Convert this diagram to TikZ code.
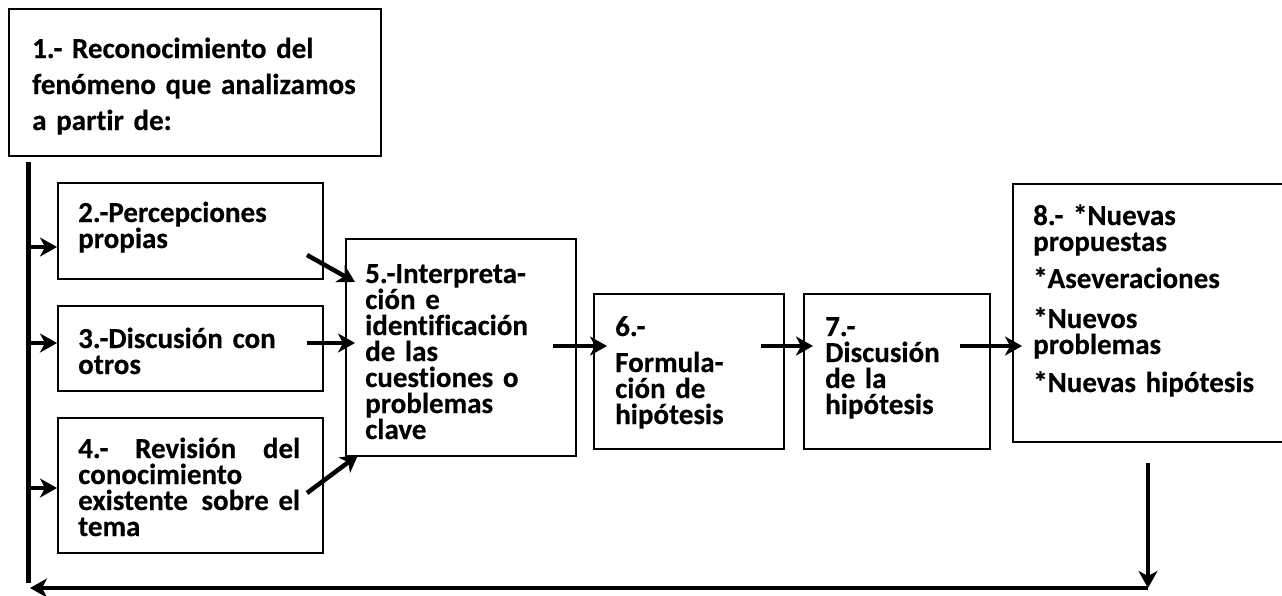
\documentclass[tikz,border=0pt]{standalone}
\usepackage{fontspec}
\setmainfont{Carlito}[Ligatures=NoCommon,BoldFeatures={FakeBold=0.4}]
\usetikzlibrary{arrows.meta}
\newcommand\stepfont{\bfseries\fontsize{29}{26}\selectfont\spaceskip 5.8pt\relax}

\begin{document}
\begin{tikzpicture}[x=1pt,y=-1pt,
  stepbox/.style={draw,line width=1.8pt,anchor=north west,inner sep=0pt},
  steptext/.style={anchor=base west,align=left,inner sep=0pt,font=\stepfont},
  flow/.style={line width=4.5pt,-{Stealth[length=17pt,width=19pt,inset=5pt]}}]
\useasboundingbox (0,0) rectangle (1282,595);
\coordinate (SpineTop) at (28,162);
\coordinate (SpineEnd) at (28,583);
\coordinate (In2) at (57,247);
\coordinate (In3) at (57,343);
\coordinate (In4) at (57,488);
\coordinate (Out2) at (307,255);
\coordinate (Out3) at (307,343);
\coordinate (Out4) at (307,493);
\coordinate (In5a) at (355,282);
\coordinate (In5b) at (355,343);
\coordinate (In5c) at (358,455);
\coordinate (Out5) at (553,346);
\coordinate (In6) at (607,346);
\coordinate (Out6) at (761,346);
\coordinate (In7) at (813,346);
\coordinate (Out7) at (960,346);
\coordinate (In8) at (1022,346);
\coordinate (Out8) at (1148,463);
\coordinate (Return) at (1148,588);
\coordinate (ReturnEnd) at (30,588);
\node[stepbox,minimum width=372pt,minimum height=147pt] (Step1) at (8,8) {};
\node[stepbox,minimum width=265pt,minimum height=96pt] (Step2) at (57,182) {};
\node[stepbox,minimum width=265pt,minimum height=85pt] (Step3) at (57,305) {};
\node[stepbox,minimum width=265pt,minimum height=135pt] (Step4) at (57,417) {};
\node[stepbox,minimum width=230pt,minimum height=217pt] (Step5) at (345,238) {};
\node[stepbox,minimum width=190pt,minimum height=155pt] (Step6) at (593,293) {};
\node[stepbox,minimum width=186pt,minimum height=155pt] (Step7) at (803,293) {};
\node[stepbox,minimum width=278pt,minimum height=258pt] (Step8) at (1012,183) {};
\node[steptext,text width=345pt] (Text1) at (32,58)
  {1.- Reconocimiento del\\[10pt]fenómeno que analizamos\\[10pt]a partir de:};
\node[steptext,text width=240pt] (Text2) at (78,222)
  {2.-Percepciones\\propias};
\node[steptext,text width=240pt] (Text3) at (78,348)
  {3.-Discusión con\\otros};
\node[steptext,text width=222pt] (Text4) at (78,458)
  {4.-\hfill Revisión\hfill del\\conocimiento\\existente\hfill sobre el\\tema};
\node[steptext,text width=205pt] (Text5) at (365,283)
  {5.-Interpreta-\\ción e\\identificación\\de las\\cuestiones o\\problemas\\clave};
\node[steptext,text width=165pt] (Text6) at (615,336)
  {6.-\\[10pt]Formula-\\ción de\\hipótesis};
\node[steptext,text width=160pt] (Text7) at (825,336)
  {7.-\\Discusión\\de la\\hipótesis};
\node[steptext,text width=245pt] (Text8) at (1033,225)
  {8.- *Nuevas\\propuestas\\[11pt]*Aseveraciones\\[14pt]*Nuevos\\problemas\\[12pt]*Nuevas hipótesis};
\draw[line width=5pt] (SpineTop) -- (SpineEnd);
\draw[flow] (SpineTop |- In2) -- (In2);
\draw[flow] (SpineTop |- In3) -- (In3);
\draw[flow] (SpineTop |- In4) -- (In4);
\draw[flow] (Out2) -- (In5a);
\draw[flow] (Out3) -- (In5b);
\draw[flow] (Out4) -- (In5c);
\draw[flow] (Out5) -- (In6);
\draw[flow] (Out6) -- (In7);
\draw[flow] (Out7) -- (In8);
\draw[flow] (Out8) -- (Return);
\draw[flow] (Return) -- (ReturnEnd);
\end{tikzpicture}
\end{document}
